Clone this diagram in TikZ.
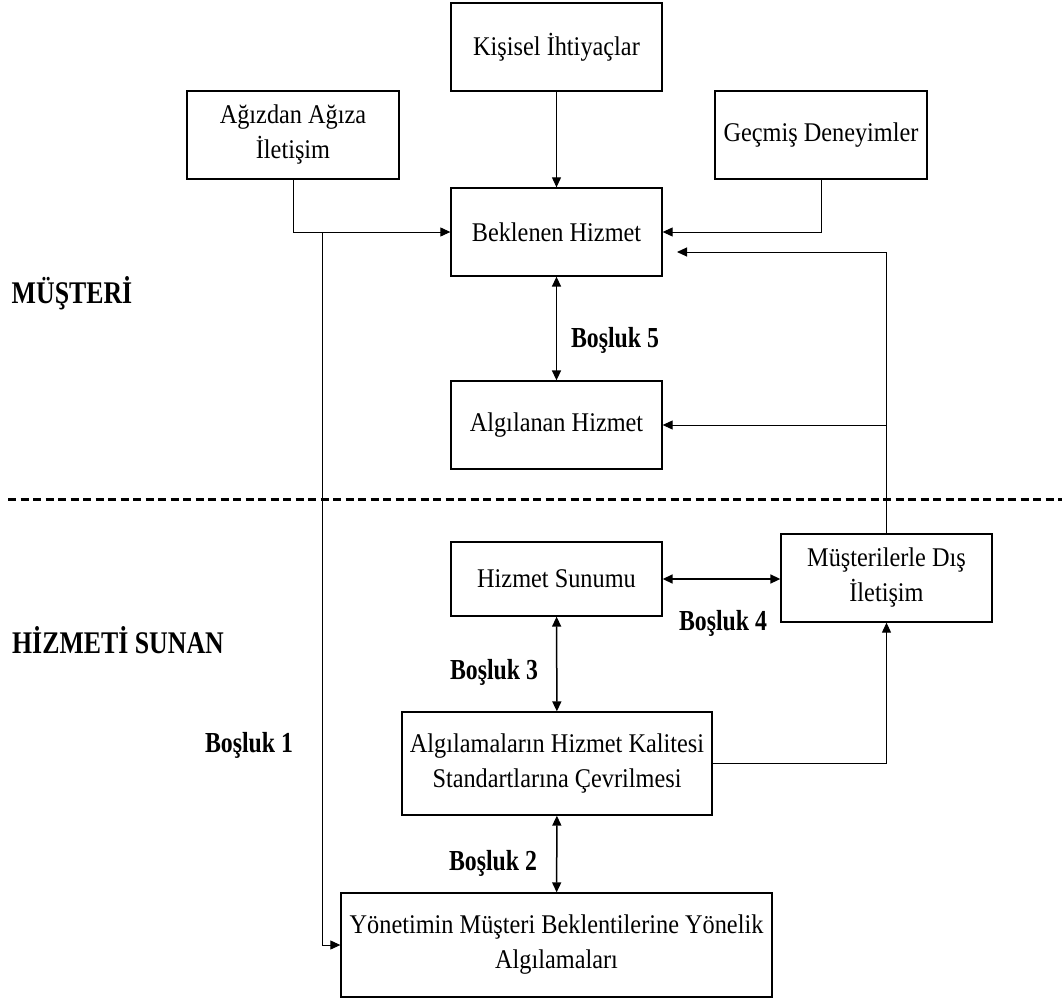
\documentclass[tikz,border=0pt]{standalone}
\usepackage{fontspec}
\setmainfont{Liberation Serif}[FakeStretch=0.9]
\newfontfamily\labelfont{Liberation Serif}[FakeStretch=0.82]
\usetikzlibrary{arrows.meta}
\begin{document}
\begin{tikzpicture}[x=1pt,y=-1pt,
  box/.style={draw=black,line width=1.3pt,inner sep=0pt,align=center,
    minimum width=211pt,minimum height=88pt,
    font=\fontsize{27}{35}\selectfont},
  gap/.style={font=\labelfont\bfseries\fontsize{29}{33}\selectfont,inner sep=0pt},
  side/.style={font=\labelfont\bfseries\fontsize{31.5}{35}\selectfont,inner sep=0pt},
  arr/.style={line width=1pt,-{Triangle[length=10pt,width=9pt]}},
  darr/.style={line width=1.5pt,{Triangle[length=10pt,width=9pt]}-{Triangle[length=10pt,width=9pt]}},
  divider/.style={line width=3pt,dash pattern=on 8pt off 4.5pt}]
\useasboundingbox (0,0) rectangle (1062,1003);

% customer side
\node[box] (ihtiyac) at (556.5,47) {Kişisel İhtiyaçlar};
\node[box,minimum width=212pt] (agiz) at (293,135) {Ağızdan Ağıza\\İletişim};
\node[box,minimum width=212pt] (gecmis) at (821,135) {Geçmiş Deneyimler};
\node[box] (beklenen) at (556.5,232) {Beklenen Hizmet};
\node[box] (algilanan) at (556.5,425) {Algılanan Hizmet};

% provider side
\node[box,minimum height=74pt] (sunum) at (556.5,579) {Hizmet Sunumu};
\node[box] (dis) at (886.5,578) {Müşterilerle Dış\\İletişim};
\node[box,minimum width=310pt,minimum height=103pt] (standart) at (557,763.5)
  {Algılamaların Hizmet Kalitesi\\Standartlarına Çevrilmesi};
\node[box,minimum width=431pt,minimum height=104pt] (yonetim) at (556.5,945)
  {Yönetimin Müşteri Beklentilerine Yönelik\\Algılamaları};

% section titles and gap labels
\node[side] (musteri) at (72,293) {MÜŞTERİ};
\node[side] (sunan) at (118,640) {HİZMETİ SUNAN};
\node[gap] (g1) at (249,745) {Boşluk 1};
\node[gap] (g2) at (493,863) {Boşluk 2};
\node[gap] (g3) at (494,672) {Boşluk 3};
\node[gap] (g4) at (723,623) {Boşluk 4};
\node[gap] (g5) at (615,340) {Boşluk 5};

% dividing line
\coordinate (dl) at (8,499);
\coordinate (dr) at (1062,499);
\draw[divider] (dl) -- (dr);

% connectors
\coordinate (split) at (322,232);
\coordinate (back) at (677,252);
\draw[arr] (ihtiyac) -- (beklenen);
\draw[arr] (agiz.south) |- (beklenen.west);
\draw[arr] (gecmis.south) |- (beklenen.east);
\draw[arr] (split) |- (yonetim.west);
\draw[arr] (dis.north) |- (back);
\draw[arr] (dis.north |- algilanan.east) -- (algilanan.east);
\draw[arr] (standart.east) -| (dis.south);
\draw[darr] (beklenen) -- (algilanan);
\draw[darr] (sunum) -- (standart);
\draw[darr] (standart) -- (yonetim);
\draw[darr] (sunum.east) -- (dis.west |- sunum.east);
\end{tikzpicture}
\end{document}
